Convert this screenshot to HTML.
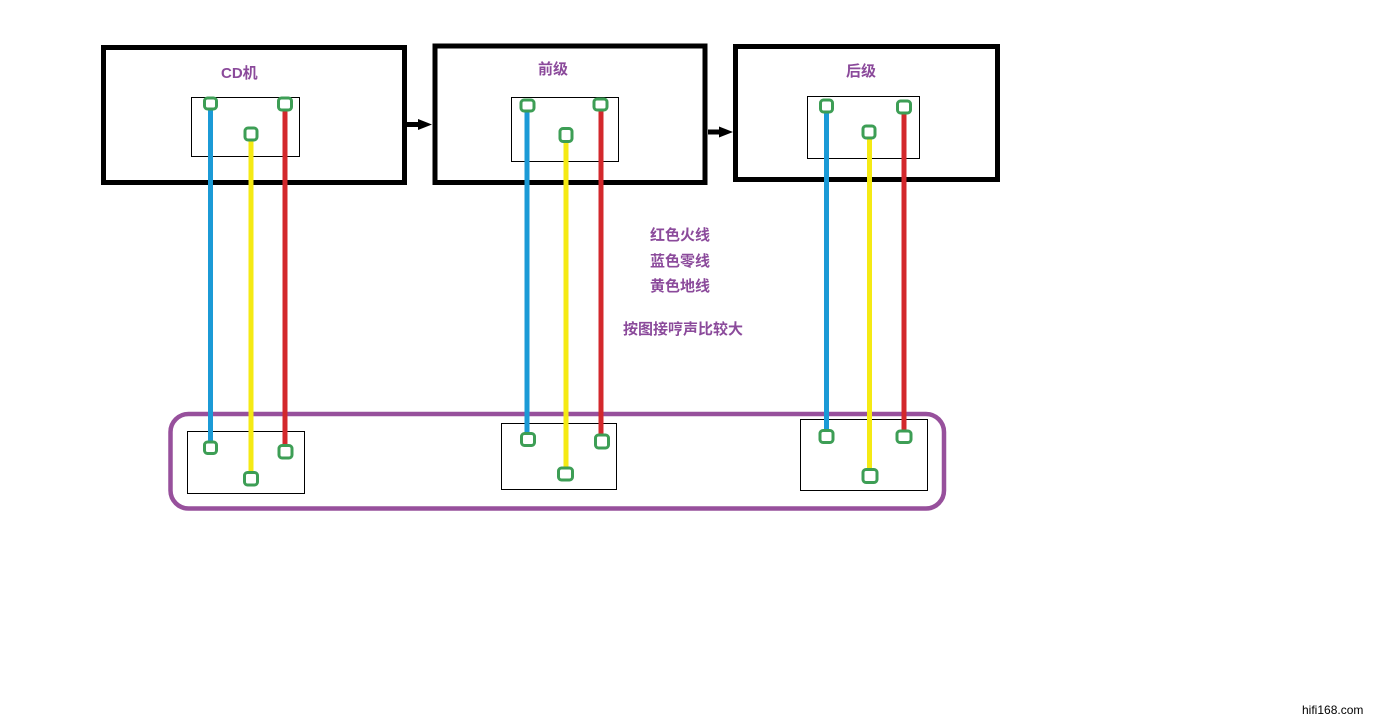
<!DOCTYPE html>
<html><head><meta charset="utf-8"><style>
html,body{margin:0;padding:0;background:#fff;}
svg{display:block;}
text{font-family:"Liberation Sans","Noto Sans CJK SC",sans-serif;}
</style></head><body>
<svg width="1382" height="725" viewBox="0 0 1382 725" xmlns="http://www.w3.org/2000/svg">
<rect width="1382" height="725" fill="#fff"/>
<!-- main boxes -->
<g fill="none" stroke="#000" stroke-width="5">
<rect x="103.5" y="47.5" width="301" height="135"/>
<rect x="435" y="46" width="270" height="136.5"/>
<rect x="735.5" y="46.5" width="262" height="133"/>
</g>
<!-- arrows -->
<rect x="407" y="122" width="13" height="5" fill="#000"/>
<polygon points="418,119 432,124.5 418,130" fill="#000"/>
<rect x="708" y="129.5" width="13" height="5" fill="#000"/>
<polygon points="719,126.5 733,132 719,137.5" fill="#000"/>
<!-- labels -->
<g fill="#8b4a9b" font-weight="bold" font-size="15">
<text x="221" y="78">CD机</text>
<text x="538" y="74">前级</text>
<text x="846" y="76">后级</text>
<text x="650" y="240">红色火线</text>
<text x="650" y="266">蓝色零线</text>
<text x="650" y="291">黄色地线</text>
<text x="623" y="334">按图接哼声比较大</text>
</g>
<!-- inner boxes -->
<g fill="none" stroke="#000" stroke-width="1">
<rect x="191.5" y="97.5" width="108" height="59"/>
<rect x="511.5" y="97.5" width="107" height="64"/>
<rect x="807.5" y="96.5" width="112" height="62"/>
<rect x="187.5" y="431.5" width="117" height="62"/>
<rect x="501.5" y="423.5" width="115" height="66"/>
<rect x="800.5" y="419.5" width="127" height="71"/>
</g>
<!-- purple rounded rect -->
<rect x="170.5" y="414" width="773.5" height="94.5" rx="18" ry="18" fill="none" stroke="#97509c" stroke-width="4.5"/>
<!-- wires -->
<g stroke-width="5" fill="none">
<line x1="210.5" y1="104" x2="210.5" y2="448" stroke="#1b9ad6"/>
<line x1="251" y1="134" x2="251" y2="479" stroke="#f5ea14"/>
<line x1="285" y1="104" x2="285" y2="452" stroke="#d3282c"/>
<line x1="527" y1="106" x2="527" y2="440" stroke="#1b9ad6"/>
<line x1="566" y1="135" x2="566" y2="474" stroke="#f5ea14"/>
<line x1="601" y1="105" x2="601" y2="442" stroke="#d3282c"/>
<line x1="826.5" y1="106" x2="826.5" y2="437" stroke="#1b9ad6"/>
<line x1="869.5" y1="132" x2="869.5" y2="476" stroke="#f5ea14"/>
<line x1="904" y1="107" x2="904" y2="437" stroke="#d3282c"/>
</g>
<!-- connectors -->
<g fill="#fff" stroke="#3d9e55" stroke-width="3">
<rect x="204.5" y="98" width="12" height="11" rx="3"/>
<rect x="278.5" y="98" width="13" height="12" rx="3"/>
<rect x="245" y="128" width="12" height="12" rx="3"/>
<rect x="521" y="100" width="13" height="11" rx="3"/>
<rect x="594" y="99" width="13" height="11" rx="3"/>
<rect x="560" y="128.5" width="12" height="13" rx="3"/>
<rect x="820.5" y="100" width="12" height="12" rx="3"/>
<rect x="897.5" y="101" width="13" height="12" rx="3"/>
<rect x="863" y="126" width="12" height="12" rx="3"/>
<rect x="204.5" y="442" width="12" height="11.5" rx="3"/>
<rect x="279" y="445.5" width="13" height="12.5" rx="3"/>
<rect x="244.5" y="472.5" width="13" height="12.5" rx="3"/>
<rect x="521.5" y="433.5" width="13" height="12" rx="3"/>
<rect x="595.5" y="435" width="13" height="13" rx="3"/>
<rect x="558.5" y="468" width="14" height="12" rx="3"/>
<rect x="820" y="430.5" width="13" height="12" rx="3"/>
<rect x="897" y="431" width="14" height="11.5" rx="3"/>
<rect x="863" y="469.5" width="14" height="13" rx="3"/>
</g>
<text x="1302" y="714" font-size="12" fill="#000">hifi168.com</text>
</svg>
</body></html>
